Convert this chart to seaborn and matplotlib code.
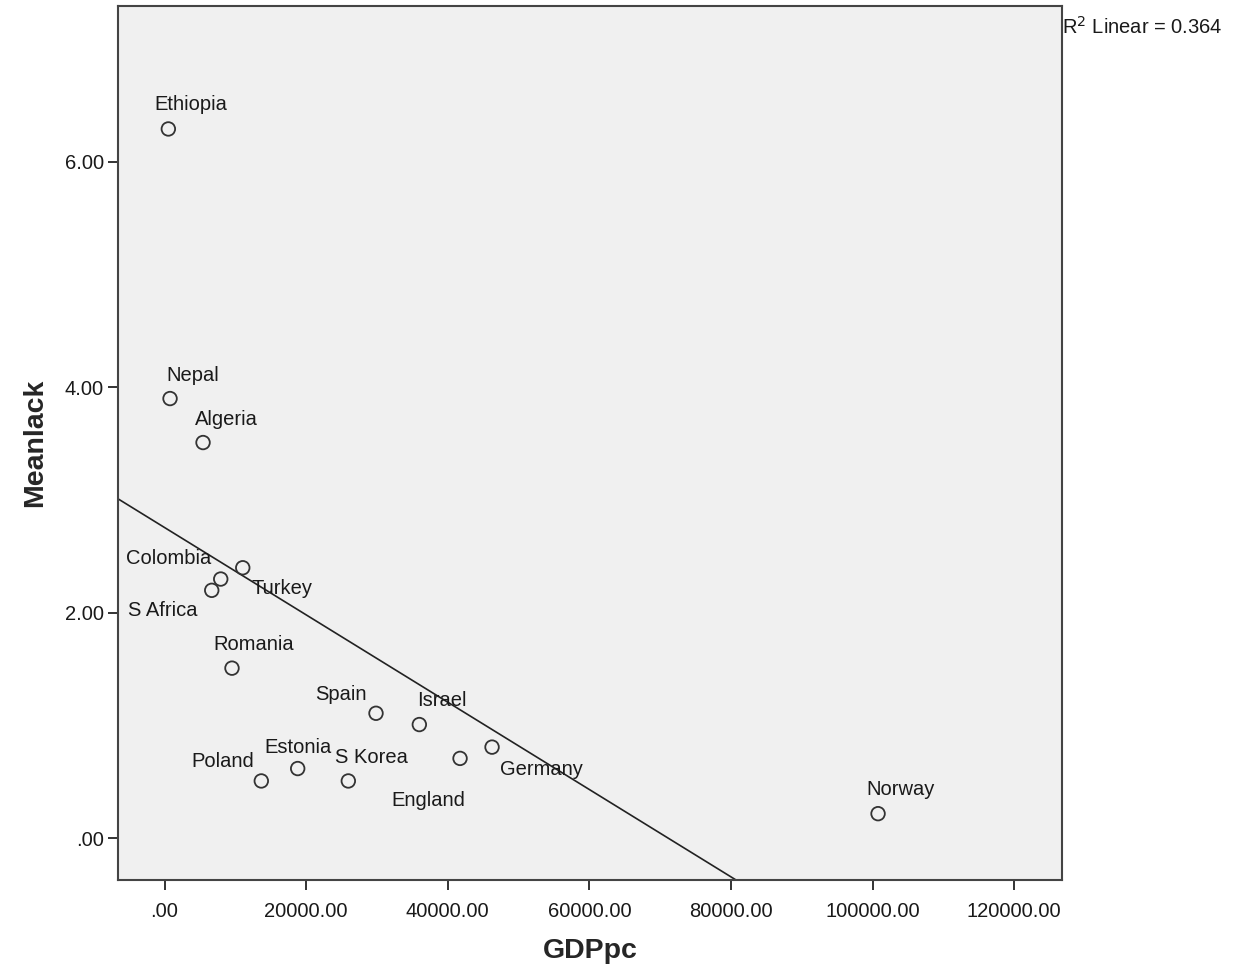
import numpy as np
import pandas as pd
import matplotlib
matplotlib.use("Agg")
import matplotlib.pyplot as plt
from matplotlib.ticker import FuncFormatter
import seaborn as sns

# values
countries = ["Ethiopia", "Nepal", "Algeria", "Turkey", "Colombia", "S Africa",
             "Romania", "Spain", "Israel", "England", "Germany", "Poland",
             "Estonia", "S Korea", "Norway"]
gdppc = [540, 780, 5440, 11050, 7940, 6670, 9530, 29870, 35990, 41740,
         46260, 13670, 18810, 25960, 100780]
meanlack = [6.29, 3.90, 3.51, 2.40, 2.30, 2.20, 1.51, 1.11, 1.01, 0.71,
            0.81, 0.51, 0.62, 0.51, 0.22]

# label offsets in pixels (label centre relative to point)
label_dx = [22, 23, 23, 39, -52, -49, 22, -35, 23, -32, 49, -39, 0, 23, 23]
label_dy = [24, 23, 23, -21, 21, -20, 24, 19, 24, -42, -22, 19, 21, 23, 24]

df = pd.DataFrame({"Country": countries, "GDPpc": gdppc, "Meanlack": meanlack})

sns.set_style("ticks")
plt.rcParams["font.family"] = ["Liberation Sans", "DejaVu Sans"]

fig = plt.figure(figsize=(12.36, 9.72), dpi=100)
ax = fig.add_axes([118 / 1236, 1 - 880 / 972, (1062 - 118) / 1236, (880 - 6) / 972])
ax.set_facecolor("#f0f0f0")

ax.set_xlim(-6570, 126760)
ax.set_ylim(-0.368, 7.38)

sns.regplot(data=df, x="GDPpc", y="Meanlack", ax=ax, scatter=False, ci=None,
            truncate=False, line_kws={"color": "#222222", "lw": 1.2})
sns.scatterplot(data=df, x="GDPpc", y="Meanlack", ax=ax, s=95,
                facecolor="none", edgecolor="#333333", linewidth=1.3, zorder=3)

for i, name in enumerate(countries):
    ax.annotate(name, (gdppc[i], meanlack[i]), xytext=(label_dx[i], label_dy[i]),
                textcoords="offset pixels", ha="center", va="center",
                fontsize=14.5, color="#1a1a1a")

ax.set_xticks([0, 20000, 40000, 60000, 80000, 100000, 120000])
ax.set_yticks([0, 2, 4, 6])
fmt = FuncFormatter(lambda v, p: ".00" if v == 0 else f"{v:.2f}")
ax.xaxis.set_major_formatter(fmt)
ax.yaxis.set_major_formatter(fmt)
ax.tick_params(axis="both", direction="out", length=7, width=1.4,
               labelsize=14.5, colors="#333333", labelcolor="#1a1a1a", pad=3)
ax.tick_params(axis="x", pad=9)

for sp in ax.spines.values():
    sp.set_color("#444444")
    sp.set_linewidth(1.5)

ax.set_xlabel("GDPpc", fontsize=20.5, fontweight="bold", labelpad=12)
ax.set_ylabel("Meanlack", fontsize=20.5, fontweight="bold", labelpad=12)

fig.text(1062 / 1236, 1 - 27 / 972, "R$^2$ Linear = 0.364", fontsize=14.5,
         ha="left", va="center", color="#1a1a1a")

fig.savefig("out.png", dpi=100, facecolor="white")
